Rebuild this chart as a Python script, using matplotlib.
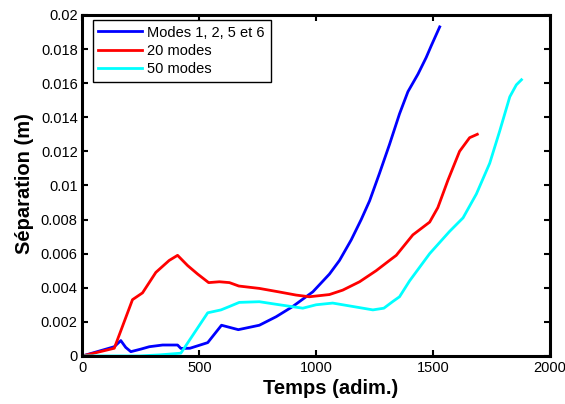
import matplotlib
matplotlib.use("Agg")
import matplotlib.pyplot as plt

plt.rcParams['font.family'] = ['Liberation Sans', 'DejaVu Sans']

# Modes 1, 2, 5 et 6
t_blue = [0, 136, 164, 185, 207, 250, 286, 343, 407, 421, 460, 536, 595, 667, 757, 829, 900,
          986, 1057, 1100, 1150, 1193, 1229, 1271, 1314, 1357, 1393, 1436, 1471, 1493, 1529]
s_blue = [0, 0.00054, 0.0009, 0.0005, 0.00025, 0.0004, 0.00054, 0.00064, 0.00064, 0.00044,
          0.00045, 0.00078, 0.0018, 0.00154, 0.0018, 0.0023, 0.0029,
          0.00376, 0.0048, 0.0056, 0.0068, 0.0080, 0.0091, 0.0107, 0.0124, 0.0142, 0.01550,
          0.01653, 0.0175, 0.0182, 0.0193]

# 20 modes
t_red = [0, 136, 214, 257, 314, 371, 407, 450, 493, 540, 586, 629, 669, 757, 843, 914, 971,
         1057, 1114, 1186, 1257, 1314, 1343, 1414, 1486, 1521, 1564, 1614, 1657, 1690]
s_red = [0, 0.00045, 0.0033, 0.0037, 0.0049, 0.0056, 0.0059, 0.0053, 0.0048, 0.0043,
         0.00435, 0.0043, 0.0041, 0.00396, 0.00375, 0.00357, 0.00347,
         0.0036, 0.00386, 0.00435, 0.005, 0.0056, 0.0059, 0.0071, 0.00785, 0.0087, 0.0103,
         0.0120, 0.0128, 0.0130]

# 50 modes
t_cyan = [0, 243, 329, 421, 536, 593, 629, 671, 757, 843, 943, 1000, 1071, 1157, 1243, 1290,
          1329, 1357, 1400, 1486, 1571, 1629, 1686, 1743, 1786, 1829, 1857, 1879]
s_cyan = [0, 0, 0.00006, 0.00016, 0.00253, 0.0027, 0.0029, 0.00314, 0.00318, 0.0030,
          0.0028, 0.0030, 0.0031, 0.0029, 0.0027, 0.0028,
          0.0032, 0.00347, 0.0044, 0.0060, 0.0073, 0.0081, 0.0095, 0.0113, 0.0132, 0.0152,
          0.0159, 0.0162]

labels = ['Modes 1, 2, 5 et 6', '20 modes', '50 modes']
x_ticks = [0, 500, 1000, 1500, 2000]
y_ticks = [0, 0.002, 0.004, 0.006, 0.008, 0.01, 0.012, 0.014, 0.016, 0.018, 0.02]
y_tick_labels = ['0', '0.002', '0.004', '0.006', '0.008', '0.01', '0.012', '0.014',
                 '0.016', '0.018', '0.02']

fig = plt.figure(figsize=(5.65, 4.04), dpi=100)
ax = fig.add_axes([0.146, 0.119, 0.827, 0.844])

lw = 2.0
ax.plot(t_blue, s_blue, color='#0000ff', lw=lw, label=labels[0])
ax.plot(t_red, s_red, color='#ff0000', lw=lw, label=labels[1])
ax.plot(t_cyan, s_cyan, color='#00ffff', lw=lw, label=labels[2])

ax.set_xlim(0, 2000)
ax.set_ylim(0, 0.02)
ax.set_xticks(x_ticks)
ax.set_xticklabels([str(v) for v in x_ticks])
ax.set_yticks(y_ticks)
ax.set_yticklabels(y_tick_labels)
ax.tick_params(direction='in', top=True, right=True, length=4, width=1.5,
               labelsize=10.5, pad=3.5)
for sp in ax.spines.values():
    sp.set_linewidth(2.2)

ax.set_xlabel('Temps (adim.)', fontsize=14.5, fontweight='bold')
ax.xaxis.set_label_coords(0.532, -0.068)
ax.set_ylabel('Séparation (m)', fontsize=14.5, fontweight='bold')
ax.yaxis.set_label_coords(-0.104, 0.505)

leg = ax.legend(loc='upper left', bbox_to_anchor=(0.0215, 0.986), borderaxespad=0,
                fontsize=10.5, handlelength=3.0, handletextpad=0.35,
                borderpad=0.4, labelspacing=0.28, fancybox=False, framealpha=1)
leg.get_frame().set_edgecolor('black')
leg.get_frame().set_linewidth(1)

fig.savefig('out.png', dpi=100)
